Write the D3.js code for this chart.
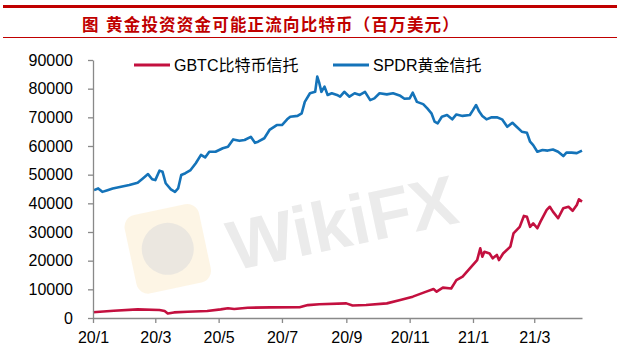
<!DOCTYPE html>
<html>
<head>
<meta charset="utf-8">
<script src="https://cdn.jsdelivr.net/npm/d3@7"></script>
<style>
  body { margin: 0; background: #fff; }
  text { font-family: Arial, "Liberation Sans", "Noto Sans CJK SC", sans-serif; }
</style>
</head>
<body>
<div id="chart"></div>
<script>
// SPDR gold trust holdings (million USD)
const spdrDates = ["2020-01-02","2020-01-06","2020-01-10","2020-01-15","2020-01-20","2020-01-28","2020-02-05","2020-02-13","2020-02-18","2020-02-23","2020-02-27","2020-03-01","2020-03-05","2020-03-08","2020-03-11","2020-03-16","2020-03-20","2020-03-23","2020-03-26","2020-03-30","2020-04-04","2020-04-09","2020-04-14","2020-04-18","2020-04-22","2020-04-28","2020-05-05","2020-05-10","2020-05-15","2020-05-21","2020-05-26","2020-06-01","2020-06-05","2020-06-08","2020-06-14","2020-06-19","2020-06-26","2020-07-01","2020-07-06","2020-07-09","2020-07-16","2020-07-20","2020-07-23","2020-07-28","2020-08-02","2020-08-04","2020-08-06","2020-08-08","2020-08-11","2020-08-14","2020-08-18","2020-08-23","2020-08-26","2020-08-30","2020-09-04","2020-09-09","2020-09-14","2020-09-19","2020-09-24","2020-09-28","2020-10-03","2020-10-10","2020-10-16","2020-10-23","2020-10-27","2020-11-01","2020-11-04","2020-11-08","2020-11-14","2020-11-18","2020-11-22","2020-11-25","2020-11-28","2020-12-02","2020-12-07","2020-12-12","2020-12-16","2020-12-22","2020-12-29","2021-01-01","2021-01-04","2021-01-07","2021-01-10","2021-01-14","2021-01-19","2021-01-24","2021-01-29","2021-02-03","2021-02-08","2021-02-12","2021-02-17","2021-02-22","2021-02-25","2021-02-28","2021-03-04","2021-03-09","2021-03-14","2021-03-19","2021-03-24","2021-03-29","2021-04-01","2021-04-06","2021-04-11","2021-04-16"];
const spdrValues = [44600,45200,44000,44600,45200,45800,46400,47200,48700,50200,48400,48100,51400,51000,47000,44900,44000,45200,49900,50500,51600,54000,56900,56000,58000,58000,59200,59700,62300,61800,62100,63200,61100,61500,62700,65600,67300,67300,69300,70200,70500,71400,75400,78400,78900,84200,81900,78900,80700,77800,78400,77800,77200,78900,77200,78400,77800,78900,76000,76600,78400,78000,78400,77500,76500,76600,78600,75400,74600,73100,71400,68500,67900,70200,70800,69300,71000,70500,70800,72500,74300,72000,70500,69300,70000,70000,69300,66700,68100,66700,65000,64600,61500,60300,58000,58600,58400,58800,58000,56500,57700,57700,57500,58400];

// GBTC bitcoin trust holdings (million USD)
const gbtcDates = ["2020-01-01","2020-01-21","2020-02-13","2020-03-05","2020-03-10","2020-03-13","2020-03-19","2020-04-01","2020-04-20","2020-05-03","2020-05-10","2020-05-16","2020-05-29","2020-06-20","2020-07-18","2020-07-26","2020-08-06","2020-09-01","2020-09-07","2020-09-20","2020-10-10","2020-10-23","2020-11-04","2020-11-17","2020-11-24","2020-11-27","2020-12-03","2020-12-11","2020-12-16","2020-12-22","2020-12-29","2021-01-05","2021-01-08","2021-01-10","2021-01-12","2021-01-17","2021-01-20","2021-01-24","2021-01-26","2021-01-30","2021-02-06","2021-02-09","2021-02-15","2021-02-19","2021-02-22","2021-02-25","2021-02-28","2021-03-04","2021-03-07","2021-03-13","2021-03-16","2021-03-19","2021-03-24","2021-03-29","2021-04-03","2021-04-07","2021-04-11","2021-04-13","2021-04-16"];
const gbtcValues = [2000,2550,3000,2800,2450,1600,1950,2200,2450,3000,3400,3150,3600,3700,3750,4500,4800,5100,4350,4550,5100,6300,7450,9200,10100,9200,10600,10300,13200,14400,17300,20200,24300,21400,23100,22500,20800,22000,20200,22500,24900,29500,31800,35600,35300,31800,33000,31300,33600,37700,38800,37100,34800,38300,38800,37400,39400,41400,40600];

const yTicks = [0,10000,20000,30000,40000,50000,60000,70000,80000,90000];
const xTickDates = ["2020-01-01","2020-03-01","2020-05-01","2020-07-01","2020-09-01","2020-11-01","2021-01-01","2021-03-01"];
const xTickLabels = ["20/1","20/3","20/5","20/7","20/9","20/11","21/1","21/3"];

const titleLabel = "图";
const titleText = "黄金投资资金可能正流向比特币（百万美元）";
const seriesNames = ["GBTC比特币信托", "SPDR黄金信托"];
const seriesColors = ["#c3103f", "#1473b9"];

var w = 624;
var h = 356;
var parse = d3.timeParse("%Y-%m-%d");

var svg = d3.select("#chart")
  .append("svg")
  .attr("width", w)
  .attr("height", h);

// header rules + title
svg.append("line").attr("x1", 3).attr("x2", 617).attr("y1", 6.5).attr("y2", 6.5)
  .attr("stroke", "#c00000").attr("stroke-width", 3);
svg.append("line").attr("x1", 3).attr("x2", 617).attr("y1", 37.5).attr("y2", 37.5)
  .attr("stroke", "#c00000").attr("stroke-width", 1);
[[82, titleLabel], [106, titleText]].forEach(t => {
  svg.append("text")
    .attr("x", t[0]).attr("y", 31)
    .attr("fill", "#c00000")
    .style("font-family", "'Noto Sans CJK SC', sans-serif")
    .style("font-weight", "bold")
    .style("font-size", "16.5px")
    .style("letter-spacing", "1.2px")
    .text(t[1]);
});

var xScale = d3.scaleTime()
  .domain([parse("2020-01-01"), parse("2021-04-16")])
  .range([93, 582]);

var yScale = d3.scaleLinear()
  .domain([0, 90000])
  .range([318, 60]);

// watermark
var wm = svg.append("g").attr("transform", "translate(342,222) rotate(-12)");
wm.append("rect").attr("x", -214).attr("y", -50).attr("width", 76).attr("height", 80).attr("rx", 12)
  .attr("fill", "#fcf3df").attr("opacity", 0.8);
wm.append("circle").attr("cx", -176).attr("cy", -10).attr("r", 26).attr("fill", "#e6e3df").attr("opacity", 0.8);
wm.append("text").attr("x", 0).attr("y", 25).attr("text-anchor", "middle")
  .style("font-size", "70px").style("font-weight", "bold")
  .attr("fill", "#ebebeb").text("WikiFX");

var line = d3.line()
  .x(d => xScale(d.date))
  .y(d => yScale(d.value));

var gbtc = gbtcDates.map((d, i) => ({ date: parse(d), value: gbtcValues[i] }));
var spdr = spdrDates.map((d, i) => ({ date: parse(d), value: spdrValues[i] }));

svg.append("path").datum(gbtc).attr("d", line)
  .attr("fill", "none").attr("stroke", seriesColors[0]).attr("stroke-width", 2.6)
  .attr("stroke-linejoin", "round");
svg.append("path").datum(spdr).attr("d", line)
  .attr("fill", "none").attr("stroke", seriesColors[1]).attr("stroke-width", 2.6)
  .attr("stroke-linejoin", "round");

// axes
var xAxis = d3.axisBottom(xScale)
  .tickValues(xTickDates.map(parse))
  .tickFormat((d, i) => xTickLabels[i])
  .tickSize(5).tickPadding(9).tickSizeOuter(0);
var yAxis = d3.axisLeft(yScale)
  .tickValues(yTicks)
  .tickFormat(d3.format("d"))
  .tickSize(5).tickPadding(15).tickSizeOuter(0);

var gx = svg.append("g").attr("transform", "translate(0,318)").call(xAxis);
var gy = svg.append("g").attr("transform", "translate(93,0)").call(yAxis);
[gx, gy].forEach(g => {
  g.select(".domain").attr("stroke", "#898989").attr("stroke-width", 1.3);
  g.selectAll(".tick line").attr("stroke", "#898989").attr("stroke-width", 1.3);
  g.selectAll(".tick text").attr("fill", "#000")
    .style("font-size", "16px").style("font-family", "Arial, 'Liberation Sans', sans-serif");
});

// legend
var legendX = [134, 333];
seriesNames.forEach((name, i) => {
  var lg = svg.append("g").attr("transform", "translate(" + legendX[i] + ",65)");
  lg.append("line").attr("x1", 0).attr("x2", 36).attr("y1", 0).attr("y2", 0)
    .attr("stroke", seriesColors[i]).attr("stroke-width", 3);
  lg.append("text").attr("x", 40).attr("y", 6)
    .style("font-size", "16px").attr("fill", "#000")
    .text(name);
});
</script>
</body>
</html>
